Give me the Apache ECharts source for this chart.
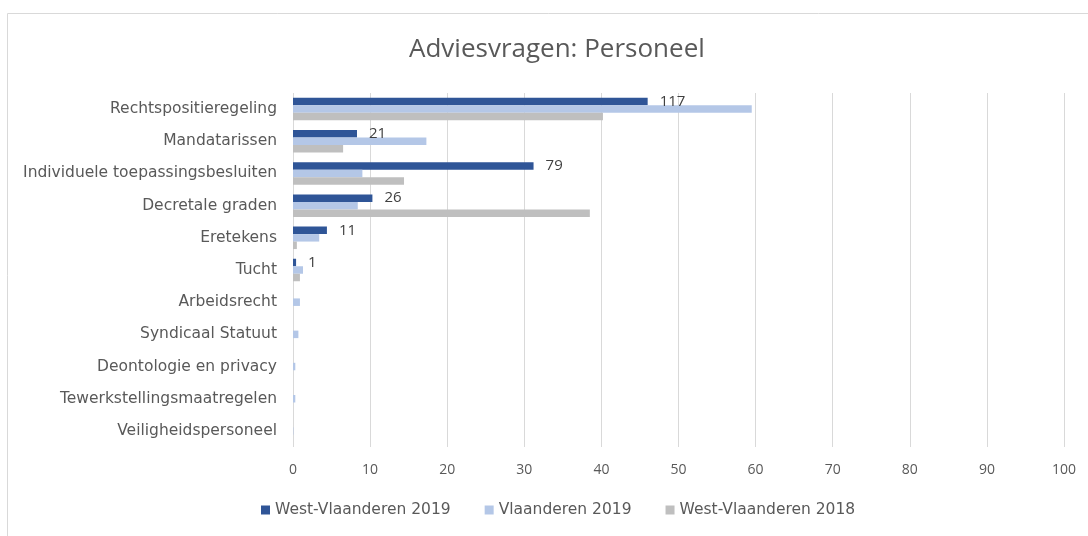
<!DOCTYPE html>
<html><head><meta charset="utf-8">
<script src="https://cdn.jsdelivr.net/npm/echarts@6/dist/echarts.min.js"></script>
<style>html,body{margin:0;padding:0;background:#fff}#c{width:1088px;height:536px}</style>
</head><body><div id="c"></div>
<script>
const categories = ["Rechtspositieregeling","Mandatarissen","Individuele toepassingsbesluiten","Decretale graden","Eretekens","Tucht","Arbeidsrecht","Syndicaal Statuut","Deontologie en privacy","Tewerkstellingsmaatregelen","Veiligheidspersoneel"];
const wv2019 = [46.0, 8.3, 31.2, 10.3, 4.4, 0.4, 0, 0, 0, 0, 0];
const wv2019Counts = [117, 21, 79, 26, 11, 1, null, null, null, null, null];
const vl2019 = [59.5, 17.3, 9.0, 8.4, 3.4, 1.3, 0.9, 0.7, 0.3, 0.3, 0.05];
const wv2018 = [40.2, 6.5, 14.4, 38.5, 0.5, 0.9, 0, 0, 0, 0, 0];
const xTicks = {min: 0, max: 100, interval: 10};

const font = 'Open Sans';
const font2 = 'DejaVu Sans';
const chart = echarts.init(document.getElementById('c'));
const barH = 7.5;
chart.setOption({
  animation: false,
  textStyle: {fontFamily: font},
  title: {text: 'Adviesvragen: Personeel', left: 404, top: 32,
    textStyle: {fontFamily: font, fontSize: 26, fontWeight: 'normal', color: '#595959'}},
  graphic: [{type: 'rect', shape: {x: 7.5, y: 13.5, width: 1100, height: 540},
    style: {fill: 'none', stroke: '#d9d9d9', lineWidth: 1}, silent: true}],
  legend: {bottom: 13, left: 256, itemWidth: 9, itemHeight: 9, itemGap: 34, icon: 'rect',
    textStyle: {fontFamily: font2, fontSize: 15.5, color: '#595959'}},
  grid: {left: 293, right: 24, top: 93, bottom: 89, containLabel: false},
  xAxis: {type: 'value', min: xTicks.min, max: xTicks.max, interval: xTicks.interval,
    axisLine: {show: false}, axisTick: {show: false},
    splitLine: {lineStyle: {color: '#d9d9d9', width: 1}},
    axisLabel: {fontFamily: font, fontSize: 14, color: '#595959', margin: 16}},
  yAxis: {type: 'category', data: categories, inverse: true,
    axisLine: {show: false}, axisTick: {show: false},
    axisLabel: {fontFamily: font2, fontSize: 15.5, color: '#595959', margin: 16}},
  series: [
    {name: 'West-Vlaanderen 2019', type: 'bar', data: wv2019, barWidth: barH, barGap: '0%',
      itemStyle: {color: '#2F5597'},
      label: {show: true, position: 'right', distance: 12, fontFamily: font, fontSize: 15, color: '#404040',
        formatter: p => wv2019Counts[p.dataIndex] == null ? '' : String(wv2019Counts[p.dataIndex])}},
    {name: 'Vlaanderen 2019', type: 'bar', data: vl2019, barWidth: barH, barGap: '0%',
      itemStyle: {color: '#B4C7E7'}},
    {name: 'West-Vlaanderen 2018', type: 'bar', data: wv2018, barWidth: barH, barGap: '0%',
      itemStyle: {color: '#BFBFBF'}}
  ]
});
</script></body></html>
